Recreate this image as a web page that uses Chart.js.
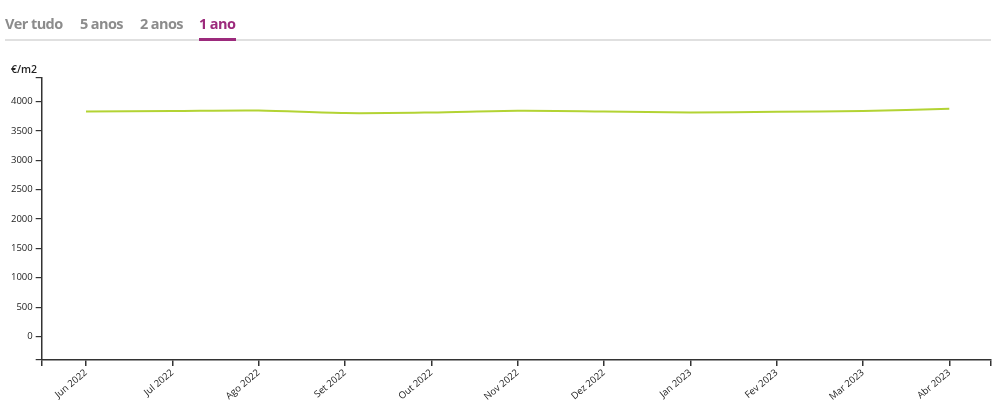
<!DOCTYPE html>
<html>
<head>
<meta charset="utf-8">
<script src="https://cdn.jsdelivr.net/npm/chart.js@4.4.0/dist/chart.umd.min.js"></script>
<style>
  html, body { margin: 0; padding: 0; background: #fff; }
  #wrap { position: relative; width: 1000px; height: 404px; overflow: hidden; }
  canvas { position: absolute; left: 0; top: 0; }
  .tab { position: absolute; top: 14px; font-family: "Open Sans", sans-serif; font-weight: 700; font-size: 14.5px; color: #8c8c8c; letter-spacing: -0.6px; white-space: nowrap; }
  .tab.active { color: #9c2a7c; }
  #rule { position: absolute; left: 5px; top: 39px; width: 986px; height: 2px; background: #e0e0e0; }
  #under { position: absolute; left: 199px; top: 38px; width: 37px; height: 3px; background: #9c2a7c; }
  #unit { position: absolute; left: 11px; top: 62px; font-family: "Open Sans", sans-serif; font-weight: 600; font-size: 10.5px; color: #222; }
</style>
</head>
<body>
<div id="wrap">
  <canvas id="c" width="1000" height="404"></canvas>
  <span class="tab" style="left:5px">Ver tudo</span>
  <span class="tab" style="left:80px">5 anos</span>
  <span class="tab" style="left:140px">2 anos</span>
  <span class="tab active" style="left:199px">1 ano</span>
  <div id="rule"></div>
  <div id="under"></div>
  <div id="unit">€/m2</div>
</div>
<script>
const months = ["Jun 2022","Jul 2022","Ago 2022","Set 2022","Out 2022","Nov 2022","Dez 2022","Jan 2023","Fev 2023","Mar 2023","Abr 2023"];
const pricePerM2 = [3830, 3837, 3845, 3803, 3813, 3842, 3830, 3813, 3825, 3837, 3876];
const yTicks = [0, 500, 1000, 1500, 2000, 2500, 3000, 3500, 4000];
const yMin = -400, yMax = 4400;
const xMin = -0.513, xMax = 10.483;

const axisColor = "#333";
const tickFont = { family: "'Open Sans', sans-serif", size: 9.5 };

new Chart(document.getElementById("c"), {
  type: "line",
  data: {
    datasets: [{
      data: pricePerM2.map((v, i) => ({ x: i, y: v })),
      borderColor: "#b3d334",
      borderWidth: 2,
      pointRadius: 0,
      tension: 0.3,
      fill: false
    }]
  },
  options: {
    responsive: false,
    animation: false,
    devicePixelRatio: 1,
    layout: { padding: { top: 78, right: 9, left: 0, bottom: 0 } },
    plugins: { legend: { display: false }, tooltip: { enabled: false } },
    scales: {
      x: {
        type: "linear",
        min: xMin, max: xMax,
        afterBuildTicks: (s) => { s.ticks = [{ value: xMin }].concat(months.map((m, i) => ({ value: i }))).concat([{ value: xMax }]); },
        afterFit: (s) => { s.height = 44; },
        ticks: {
          autoSkip: false,
          maxRotation: 40, minRotation: 40,
          color: "#222",
          font: tickFont,
          padding: 1,
          callback: (v) => (Number.isInteger(v) && months[v]) ? months[v] : ""
        },
        grid: { drawOnChartArea: false, drawTicks: true, tickLength: 6, color: axisColor, lineWidth: 1.5 },
        border: { display: true, color: axisColor, width: 1.5 }
      },
      y: {
        min: yMin, max: yMax,
        afterBuildTicks: (s) => { s.ticks = [{ value: yMin }].concat(yTicks.map(v => ({ value: v }))).concat([{ value: yMax }]); },
        afterFit: (s) => { s.width = 41.7; },
        ticks: {
          color: "#222",
          font: tickFont,
          padding: 3,
          callback: (v) => yTicks.includes(v) ? String(v) : ""
        },
        grid: { drawOnChartArea: false, drawTicks: true, tickLength: 6, color: axisColor, lineWidth: 1.2 },
        border: { display: true, color: axisColor, width: 1.5 }
      }
    }
  }
});
</script>
</body>
</html>
